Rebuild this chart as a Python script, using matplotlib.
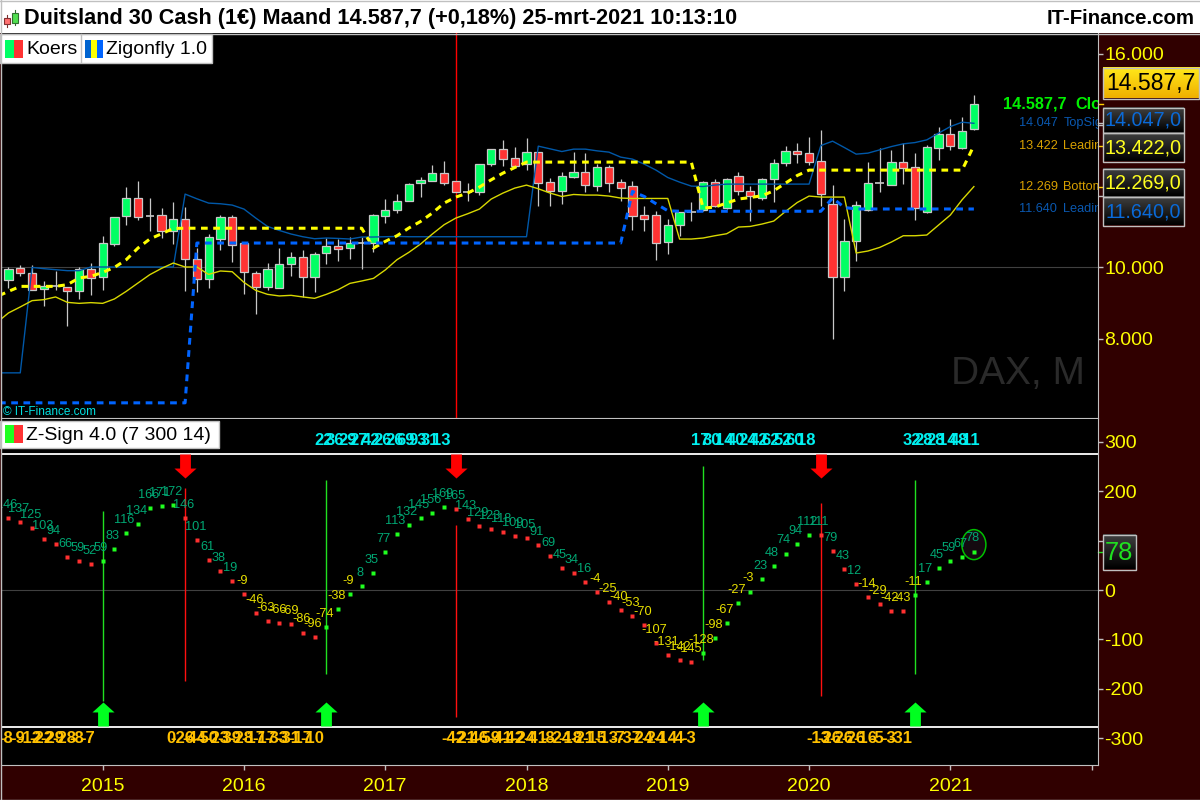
#-*- coding:UTF-8 -*-
import matplotlib
matplotlib.use("Agg")
import matplotlib.pyplot as plt
from matplotlib.colors import LinearSegmentedColormap
from matplotlib.patches import Ellipse, Rectangle
import numpy as np

plt.rcParams['font.family'] = ['Liberation Sans', 'DejaVu Sans']

# monthly candles, May 2014 - March 2021
opens = [9647,9983,9843,9383,9478,9450,9338,9955,9720,10656,11431,11947,11431,11470,11021,11358,10236,9675,10797,11414,
         10684,9843,9450,9431,10095,10292,9731,10404,10600,10544,10673,10684,11442,11610,11851,12367,12440,12648,12432,12104,
         12104,12900,13321,13069,12909,13237,12395,12132,12544,12676,12292,12816,12395,12283,11470,11470,10701,11178,11562,11599,
         12395,11655,12553,12132,11947,12480,12928,13265,13209,12985,11778,9720,10740,11610,12367,12328,12957,12816,11543,13366,
         13742,13349,13899]
highs = [10000,10076,10076,9627,9907,9450,10011,10123,10889,11414,12255,12432,11947,11666,11843,11694,10544,10945,11470,11470,
         10693,9888,10123,10544,10421,10497,10421,10825,10797,10853,10853,11498,11919,12059,12367,12536,12881,12993,12432,12367,
         12900,13321,13582,13386,13638,13237,12508,12676,13245,13209,12900,12881,12480,12432,11731,11590,11358,11554,11843,12432,
         12480,12516,12676,12272,12508,13041,13414,13489,13658,13862,12311,11366,11851,12973,13349,13301,13489,13209,13442,13955,
         14171,14219,14844]
lows = [9411,9748,9355,8906,9374,8345,9122,9215,9374,10589,11198,11338,11029,10825,10665,9327,9299,9411,10497,10140,
        9262,8701,9355,9431,9748,9170,9299,10104,10188,10236,9963,10421,11245,11526,11851,11964,12440,12320,12104,11871,
        12039,12861,12853,12861,12741,11711,11711,11787,12524,12104,12132,12123,11871,11058,11010,10216,10384,10889,11290,11571,
        11683,11647,12039,11290,11879,11823,12853,12928,12881,11731,7991,9327,10168,11590,12104,12311,12348,11338,11526,13021,
        13302,13330,13862]
closes = [9955,9843,9374,9478,9478,9338,9955,9703,10684,11414,11947,11402,11431,11010,11358,10236,9675,10853,11414,10617,
          9871,9450,9955,10095,10292,9731,10376,10600,10516,10684,10673,11470,11610,11863,12339,12460,12648,12384,12104,12104,
          12900,13321,13057,12861,13237,12384,12132,12564,12676,12300,12816,12384,12236,11450,11346,10673,11189,11554,11562,12395,
          11711,12480,12132,11992,12488,12928,13265,13181,12957,12059,9731,10740,11739,12367,12367,12957,12805,11675,13377,13742,
          13422,13826,14588]

# indicator lines, first value sits one month before the first candle
top_sign = [7038,7038,7038,10000,9964,9936,9908,9908,10011,10011,10011,10011,10011,10011,10011,10011,12059,11927,11806,11787,
            11750,11638,11386,11150,11038,10937,10861,10805,10825,10813,10797,10853,10853,10861,10870,10861,10861,10861,10861,10861,
            10861,10861,10861,10861,10861,10861,13405,13330,13254,13321,13321,13273,13237,13097,13041,12900,12732,12524,12395,12283,
            12272,12311,12339,12339,12339,12339,12339,12339,12339,12339,13422,13545,13366,13181,13209,13301,13394,13470,13506,13582,
            13770,13955,14078,14047]
bottom_sign = [8449,8721,8889,9066,9094,9170,9018,8990,9010,8990,9114,9327,9562,9795,9972,10123,10011,10011,9803,9899,
               9879,9579,9355,9243,9198,9215,9170,9131,9243,9374,9551,9618,9691,9927,10216,10421,10656,10937,11198,11386,
               11506,11638,11919,12087,12227,12311,12208,12087,11992,12048,12031,12031,12003,11947,11936,11936,11936,11936,10796,10796,
               10825,10889,10945,11133,11150,11217,11301,11571,11823,12003,11975,11975,11975,10404,10460,10561,10713,10889,10889,10909,
               11189,11470,11899,12269]
leading_up = [9178,9327,9467,9467,9467,9467,9515,9703,9748,9860,10000,10216,10544,10796,10945,11094,11100,11100,11100,11100,
              11100,11100,11100,11100,11100,11100,11100,11100,11100,11100,11100,11100,10544,10729,10889,11105,11290,11526,11806,11975,
              12087,12255,12460,12648,12805,12957,12957,12957,12957,12957,12957,12957,12957,12957,12957,12957,12957,12957,12957,12957,
              11666,11694,11806,11919,11964,12011,12152,12367,12581,12732,12732,12732,12732,12732,12732,12732,12732,12732,12732,12732,
              12732,12732,12732,13422]
leading_down = [6196,6196,6196,6196,6196,6196,6196,6196,6196,6196,6196,6196,6196,6196,6196,6196,6196,10684,10684,10684,
                10684,10684,10684,10684,10684,10684,10684,10684,10684,10684,10684,10684,10684,10684,10684,10684,10684,10684,10684,10684,
                10684,10684,10684,10684,10684,10684,10684,10684,10684,10684,10684,10684,10684,10684,12132,11992,11787,11591,11577,11577,
                11577,11577,11577,11577,11577,11577,11577,11577,11577,11577,11577,11947,11683,11640,11640,11640,11640,11640,11640,11640,
                11640,11640,11640,11640]

# Z-Sign oscillator
zsign = [146,137,125,103,94,66,59,52,59,83,116,134,166,171,172,146,101,61,38,19,
         -9,-46,-63,-66,-69,-86,-96,-74,-38,-9,8,35,77,113,132,145,156,169,165,143,
         129,123,118,109,105,91,69,45,34,16,-4,-25,-40,-53,-70,-107,-131,-142,-145,-128,
         -98,-67,-27,-3,23,48,74,94,112,111,79,43,12,-14,-29,-42,-43,-11,17,45,
         59,67,78]
rising = [0,0,0,0,0,0,0,0,1,1,1,1,1,1,1,0,0,0,0,0,
          0,0,0,0,0,0,0,1,1,1,1,1,1,1,1,1,1,1,0,0,
          0,0,0,0,0,0,0,0,0,0,0,0,0,0,0,0,0,0,0,1,
          1,1,1,1,1,1,1,1,1,0,0,0,0,0,0,0,0,1,1,1,
          1,1,1]

# signals: bar index and extent of the thin vertical line
buy_bars = [8,27,59,77]
buy_top = [160,223,251,223]
buy_bottom = [-225,-171,-142,-171]
sell_bars = [15,38,69]
sell_top = [206,132,176]
sell_bottom = [-185,-257,-215]
band_top = 275
band_bottom = -277

# numbers printed over each other above and below the bands
count_up_bars = [27,28,29,30,31,32,33,34,35,36,37, 59,60,61,62,63,64,65,66,67,68, 77,78,79,80,81,82]
count_up = ['22','36','29','27','42','26','26','69','93','31','13',
            '17','30','14','40','24','42','62','52','60','18',
            '32','28','28','14','48','11']
count_down_bars = [0,1,2,3,4,5,6,7, 14,15,16,17,18,19,20,21,22,23,24,25,26,
                   38,39,40,41,42,43,44,45,46,47,48,49,50,51,52,53,54,55,56,57,58,
                   69,70,71,72,73,74,75,76]
count_down = ['-8','-9','-12','-22','-29','-28','-8','-7',
              '0','-26','-44','-50','-23','-39','-28','-17','-17','-33','-31','-17','-10',
              '-42','-21','-46','-59','-41','-42','-24','-41','-8','-24','-18','-21','-15','-13','-7','-37','-24','-24','-14','-4','-3',
              '-13','-26','-26','-26','-16','-5','-3','-31']

year_bars = [8,20,32,44,56,68,80,92]
year_labels = ['2015','2016','2017','2018','2019','2020','2021','']
price_ticks = [8000,10000,12000,14000,16000]
price_tick_labels = ['8.000','10.000','12.000','14.000','16.000']
zsign_ticks = [-300,-200,-100,0,100,200,300]

MAROON = '#300000'
FRAME = '#c0c0c0'
W, H = 1200, 800


def px_axes(fig, x0, y0, x1, y1):
    # axes from pixel box, y counted from the top
    return fig.add_axes([x0/W, 1-y1/H, (x1-x0)/W, (y1-y0)/H])


fig = plt.figure(figsize=(12, 8), dpi=100, facecolor=MAROON)

ax = px_axes(fig, 1, 33, 1097.5, 418.5)
ax2 = px_axes(fig, 1, 419, 1097.5, 764.5)

for a in (ax, ax2):
    a.set_facecolor('black')
    a.set_xlim(-0.637, 92.5)
    for s in a.spines.values():
        s.set_color(FRAME)
    a.spines['top'].set_visible(False)
    a.spines['left'].set_visible(False)
    a.yaxis.tick_right()
    a.tick_params(axis='y', colors=FRAME, labelcolor='#ffff00', length=3.5, width=1, labelsize=14, pad=1.5)

# ---- price pane
ax.set_ylim(5756, 16583)
ax.set_yticks(price_ticks)
ax.set_yticklabels(price_tick_labels)
ax.set_xticks([])
ax.axhline(10000, color='#404040', lw=0.8, zorder=1)
ax.axvline(sell_bars[1], color='#ff0000', lw=1, zorder=1.5)

bars = np.arange(len(closes))
o = np.array(opens)
c = np.array(closes)
ax.vlines(bars, lows, highs, color='#c8c8c8', lw=0.9, zorder=2, snap=True)
up = c > o
down = c < o
doji = c == o
ax.bar(bars[up], (c-o)[up], bottom=o[up], width=0.7, color='#00ff64', edgecolor='#c8c8c8', lw=0.9, zorder=3)
ax.bar(bars[down], (o-c)[down], bottom=c[down], width=0.7, color='#ff3333', edgecolor='#c8c8c8', lw=0.9, zorder=3)
ax.hlines(c[doji], bars[doji]-0.36, bars[doji]+0.36, color='#c8c8c8', lw=1.2, zorder=3)

line_x = np.arange(-1, len(closes))
ax.plot(line_x, top_sign, color='#0058a8', lw=1.0, zorder=5)
ax.plot(line_x, bottom_sign, color='#d8d800', lw=1.0, zorder=5)
ax.plot(line_x, leading_up, color='#ffff00', lw=2.2, ls=(0, (2.2, 1.8)), zorder=6, dash_capstyle='butt')
ax.plot(line_x, leading_down, color='#0064ff', lw=2.2, ls=(0, (2.2, 1.8)), zorder=6, dash_capstyle='butt')

ax.text(91.4, 7000, 'DAX, M', color='#2a2a2a', fontsize=28, ha='right', va='center', zorder=1)
ax.text(-0.45, 5950, '© IT-Finance.com', color='#00e0e0', fontsize=8.5, va='center', zorder=7)

# right hand value texts, cut off by the pane edge
ax.text(84.5, closes[-1], '14.587,7', color='#00f000', fontsize=11.7, fontweight='bold', va='center', clip_on=True, zorder=7)
ax.text(90.6, closes[-1], 'Close', color='#00f000', fontsize=11.7, fontweight='bold', va='center', clip_on=True, zorder=7)
for val, num, name, col in [(top_sign[-1], '14.047', 'TopSign', '#0a58b0'),
                            (leading_up[-1], '13.422', 'Leading', '#d8a000'),
                            (bottom_sign[-1], '12.269', 'BottomSign', '#d8a000'),
                            (leading_down[-1], '11.640', 'Leading', '#0a58b0')]:
    ax.text(85.8, val, num, color=col, fontsize=9.2, va='center', clip_on=True, zorder=7)
    ax.text(89.6, val, name, color=col, fontsize=9.2, va='center', clip_on=True, zorder=7)

tick_tr = ax.get_yaxis_transform()
for val, col in [(closes[-1], '#ffd000'), (leading_up[-1], '#ffd000'), (bottom_sign[-1], '#ffd000'), (top_sign[-1], FRAME)]:
    ax.plot([1, 1.005], [val, val], color=col, lw=1, transform=tick_tr, clip_on=False, zorder=1)

# ---- oscillator pane
ax2.set_ylim(-353.3, 346.4)
ax2.set_yticks(zsign_ticks)
ax2.set_yticklabels([str(t) for t in zsign_ticks])
ax2.set_xticks(year_bars)
ax2.set_xticklabels(year_labels)
ax2.tick_params(axis='x', colors=FRAME, labelcolor='#ffff00', length=3.5, width=1, labelsize=14, pad=6)
ax2.axhline(0, color='#404040', lw=0.8, zorder=1)
ax2.axhline(band_top, color='white', lw=1.3, zorder=2)
ax2.axhline(band_bottom, color='white', lw=1.3, zorder=2)

ax2.vlines(buy_bars, buy_bottom, buy_top, color='#20e020', lw=1.0, zorder=2, snap=True)
ax2.vlines(sell_bars, sell_bottom, sell_top, color='#ff1010', lw=1.0, zorder=2, snap=True)

# block arrows as custom markers
arrow_down = [(-0.45, 1), (0.45, 1), (0.45, -0.17), (0.92, -0.17), (0, -1), (-0.92, -0.17), (-0.45, -0.17)]
arrow_up = [(-0.45, -1), (0.45, -1), (0.45, 0.17), (0.92, 0.17), (0, 1), (-0.92, 0.17), (-0.45, 0.17)]
ax2.plot(sell_bars, [251]*len(sell_bars), ls='none', marker=arrow_down, ms=17.3, mfc='#ff0000', mec='none', zorder=4)
ax2.plot(buy_bars, [-251]*len(buy_bars), ls='none', marker=arrow_up, ms=17.3, mfc='#00ff20', mec='none', zorder=4)

z = np.array(zsign)
r = np.array(rising).astype(bool)
ax2.plot(bars[r], z[r], ls='none', marker='s', ms=2.5, mfc='#20ff20', mec='none', zorder=5)
ax2.plot(bars[~r], z[~r], ls='none', marker='s', ms=2.5, mfc='#ff3030', mec='none', zorder=5)

for i, v in enumerate(zsign):
    ax2.annotate(str(v), (i, v), xytext=(-1.2, 9.4), textcoords='offset points', ha='center', va='center',
                 color='#00a874' if v >= 0 else '#e8e000', fontsize=9.2, clip_on=True, zorder=4)

for i, t in zip(count_up_bars, count_up):
    ax2.annotate(t, (i, 302), xytext=(-2, 0), textcoords='offset points', ha='center', va='center',
                 color='#00f0f0', fontsize=12, fontweight='bold', zorder=4)
for i, t in zip(count_down_bars, count_down):
    ax2.annotate(t, (i, -300), xytext=(-2, 0), textcoords='offset points', ha='center', va='center',
                 color='#ffc000', fontsize=12, fontweight='bold', clip_on=True, zorder=4)

ax2.add_patch(Ellipse((82, 92), 2.04, 60.7, fc='#140a10', ec='#00c000', lw=1.1, zorder=3))
ax2.plot([1, 1.005], [zsign[-1], zsign[-1]], color='#20e020', lw=1,
         transform=ax2.get_yaxis_transform(), clip_on=False, zorder=1)

# ---- screen furniture, drawn in pixel coordinates
ov = fig.add_axes([0, 0, 1, 1], zorder=10)
ov.patch.set_alpha(0)
ov.axis('off')
ov.set_xlim(0, W)
ov.set_ylim(H, 0)

gold = LinearSegmentedColormap.from_list('gold', ['#ffe81a', '#f0b000'])
dark = LinearSegmentedColormap.from_list('dark', ['#404040', '#000000'])
grad = np.linspace(0, 1, 32).reshape(-1, 1)


def value_box(x0, y0, x1, y1, cmap, text, col, size):
    ov.imshow(grad, extent=[x0, x1, y1, y0], aspect='auto', cmap=cmap, zorder=2)
    ov.add_patch(Rectangle((x0, y0), x1-x0, y1-y0, fc='none', ec=FRAME, lw=1, zorder=3))
    ov.text((x0+x1)/2, (y0+y1)/2+0.5, text, color=col, fontsize=size, ha='center', va='center', zorder=4)


value_box(1102.5, 67.5, 1199, 98.5, gold, '14.587,7', 'black', 16.6)
value_box(1102.5, 107.5, 1183.5, 132.5, dark, '14.047,0', '#0a6ad8', 14.2)
value_box(1102.5, 132.5, 1183.5, 161.5, dark, '13.422,0', '#ffff20', 14.2)
value_box(1102.5, 168.5, 1183.5, 196.5, dark, '12.269,0', '#ffff20', 14.2)
value_box(1102.5, 196.5, 1183.5, 225.5, dark, '11.640,0', '#0a6ad8', 14.2)
value_box(1102.5, 534.5, 1135.5, 569.5, dark, '78', '#20e020', 18.4)

# title bar
ov.add_patch(Rectangle((0, 0), W, 33, fc='white', ec='none', zorder=2))
ov.plot([0, W], [0.5, 0.5], color=FRAME, lw=1, zorder=3)
ov.plot([0, W], [33.5, 33.5], color=FRAME, lw=1, zorder=3)
ov.text(24, 18.5, 'Duitsland 30 Cash (1€) Maand 14.587,7 (+0,18%) 25-mrt-2021 10:13:10',
        color='black', fontsize=15.55, fontweight='bold', va='center', zorder=4)
ov.text(1195, 18.5, 'IT-Finance.com', color='black', fontsize=14.7, fontweight='bold', ha='right', va='center', zorder=4)

# small candle icon in the title bar
ov.plot([6.5, 6.5], [15, 27], color='#803030', lw=0.8, zorder=4)
ov.add_patch(Rectangle((3.5, 17.5), 6, 6, fc='#ff7070', ec='#803030', lw=0.8, zorder=5))
ov.plot([14.5, 14.5], [10, 25], color='#307030', lw=0.8, zorder=4)
ov.add_patch(Rectangle((11.5, 12.5), 6, 10, fc='#50e050', ec='#307030', lw=0.8, zorder=5))

# legend boxes
ov.add_patch(Rectangle((0, 34), 212, 28.5, fc='white', ec=FRAME, lw=1, zorder=2))
ov.plot([80.5, 80.5], [34, 62], color=FRAME, lw=1, zorder=3)
ov.add_patch(Rectangle((5, 40), 9, 18, fc='#00ff64', ec='none', zorder=3))
ov.add_patch(Rectangle((14, 40), 9, 18, fc='#ff3333', ec='none', zorder=3))
ov.text(26, 50, 'Koers', color='black', fontsize=14, va='center', zorder=4)
ov.add_patch(Rectangle((85, 40), 6, 18, fc='#0064d0', ec='none', zorder=3))
ov.add_patch(Rectangle((91, 40), 6, 18, fc='#ffff00', ec='none', zorder=3))
ov.add_patch(Rectangle((97, 40), 6, 18, fc='#0064ff', ec='none', zorder=3))
ov.text(105.5, 50, 'Zigonfly 1.0', color='black', fontsize=14, va='center', zorder=4)

ov.add_patch(Rectangle((0, 420.5), 219, 27, fc='white', ec=FRAME, lw=1, zorder=2))
ov.add_patch(Rectangle((5, 425), 9, 18, fc='#20ff20', ec='none', zorder=3))
ov.add_patch(Rectangle((14, 425), 9, 18, fc='#ff3333', ec='none', zorder=3))
ov.text(26, 435, 'Z-Sign 4.0 (7 300 14)', color='black', fontsize=14, va='center', zorder=4)

# outer frame
ov.plot([0.5, 0.5], [0, H], color=FRAME, lw=1, zorder=3)
ov.plot([0, W], [799.5, 799.5], color=FRAME, lw=1, zorder=3)
ov.set_xlim(0, W)
ov.set_ylim(H, 0)

fig.savefig('out.png', dpi=100, facecolor=MAROON)
